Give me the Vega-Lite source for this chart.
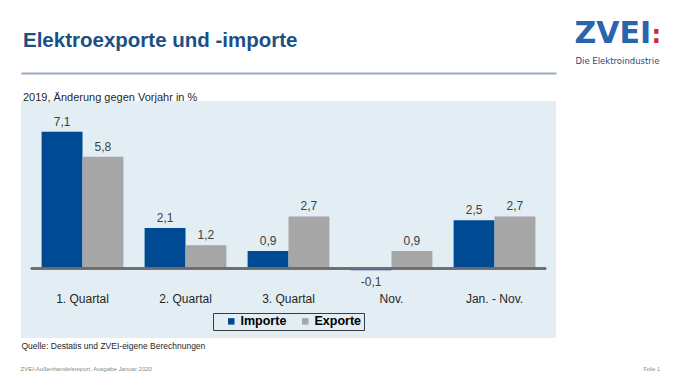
{
  "$schema": "https://vega.github.io/schema/vega-lite/v6.json",
  "width": 535,
  "height": 237,
  "autosize": {"type": "none"},
  "padding": {"left": 21, "top": 101, "right": 119, "bottom": 42},
  "background": "white",
  "config": {
    "font": "Liberation Sans",
    "view": {"stroke": null, "fill": "#e2edf4"},
    "locale": {"number": {"decimal": ",", "thousands": ".", "grouping": [3], "currency": ["", " €"], "minus": "-"}},
    "axis": {"grid": false, "labels": false, "ticks": false, "domain": false}
  },
  "title": {
    "text": "Elektroexporte und -importe",
    "subtitle": "2019, Änderung gegen Vorjahr in %",
    "anchor": "start",
    "frame": "group",
    "offset": -84.5,
    "dx": 2,
    "font": "Liberation Sans",
    "fontSize": 20.5,
    "fontWeight": "bold",
    "color": "#1c4f82",
    "subtitleFont": "Liberation Sans",
    "subtitleFontSize": 11,
    "subtitleColor": "#262626",
    "subtitlePadding": 40
  },
  "data": {
    "values": [
      {"cat": "1. Quartal", "series": "Importe", "value": 7.1},
      {"cat": "1. Quartal", "series": "Exporte", "value": 5.8},
      {"cat": "2. Quartal", "series": "Importe", "value": 2.1},
      {"cat": "2. Quartal", "series": "Exporte", "value": 1.2},
      {"cat": "3. Quartal", "series": "Importe", "value": 0.9},
      {"cat": "3. Quartal", "series": "Exporte", "value": 2.7},
      {"cat": "Nov.", "series": "Importe", "value": -0.1},
      {"cat": "Nov.", "series": "Exporte", "value": 0.9},
      {"cat": "Jan. - Nov.", "series": "Importe", "value": 2.5},
      {"cat": "Jan. - Nov.", "series": "Exporte", "value": 2.7}
    ]
  },
  "resolve": {"axis": {"x": "independent", "y": "independent"}},
  "layer": [
    {
      "mark": {"type": "bar"},
      "encoding": {
        "x": {
          "field": "cat", "type": "nominal",
          "sort": ["1. Quartal", "2. Quartal", "3. Quartal", "Nov.", "Jan. - Nov."],
          "scale": {"paddingInner": 0.206, "paddingOuter": 0.2},
          "axis": {
            "orient": "bottom", "offset": -45, "labels": true, "labelAngle": 0,
            "labelPadding": 0, "labelFontSize": 12, "labelColor": "#262626", "labelBaseline": "top",
            "title": "Quelle: Destatis und ZVEI-eigene Berechnungen",
            "titleX": 0, "titleY": 52, "titleAlign": "left", "titleAnchor": "start", "titleBaseline": "middle",
            "titleFontSize": 8.5, "titleFontWeight": "normal", "titleColor": "#262626"
          }
        },
        "xOffset": {"field": "series", "type": "nominal", "sort": ["Importe", "Exporte"], "scale": {"paddingInner": 0, "paddingOuter": 0}},
        "y": {
          "field": "value", "type": "quantitative",
          "scale": {"domain": [-3.61, 8.69], "nice": false, "zero": false},
          "axis": {
            "orient": "left",
            "title": "ZVEI-Außenhandelsreport,   Ausgabe Januar 2020",
            "titleAngle": 0, "titleX": -1, "titleY": 267, "titleAlign": "left", "titleBaseline": "middle",
            "titleFontSize": 6, "titleFontWeight": "normal", "titleColor": "#8a8a8a"
          }
        },
        "color": {
          "field": "series", "type": "nominal",
          "scale": {"domain": ["Importe", "Exporte"], "range": ["#004a93", "#a6a6a6"]},
          "legend": {
            "title": null, "orient": "none", "legendX": 192, "legendY": 212,
            "direction": "horizontal", "symbolType": "square", "symbolSize": 42, "symbolStrokeWidth": 0,
            "symbolOffset": 10, "labelOffset": 3, "columnPadding": 2, "padding": 2,
            "labelFontSize": 12.5, "labelFontWeight": "bold", "labelColor": "#000000",
            "strokeColor": "#3c3c3c"
          }
        }
      }
    },
    {
      "transform": [{"filter": "datum.value >= 0"}],
      "mark": {"type": "text", "baseline": "alphabetic", "dy": -6, "fontSize": 12, "color": "#404040"},
      "encoding": {
        "x": {
          "field": "cat", "type": "nominal",
          "sort": ["1. Quartal", "2. Quartal", "3. Quartal", "Nov.", "Jan. - Nov."],
          "axis": {
            "orient": "top", "offset": 28, "domain": true, "domainColor": "#9aabc2", "domainWidth": 2,
            "title": "ZVEI", "titleX": 553, "titleY": -31, "titleAlign": "left", "titleBaseline": "alphabetic",
            "titleFont": "DejaVu Sans", "titleFontSize": 30, "titleFontWeight": "bold", "titleColor": "#2a64ad"
          }
        },
        "xOffset": {"field": "series", "type": "nominal", "sort": ["Importe", "Exporte"]},
        "y": {
          "field": "value", "type": "quantitative",
          "axis": {
            "orient": "right",
            "title": "Folie 1",
            "titleAngle": 0, "titleX": 87, "titleY": 267, "titleAlign": "left", "titleBaseline": "middle",
            "titleFontSize": 5.5, "titleFontWeight": "normal", "titleColor": "#8a8a8a"
          }
        },
        "text": {"field": "value", "type": "quantitative", "format": ".1f"}
      }
    },
    {
      "transform": [{"filter": "datum.value < 0"}],
      "mark": {"type": "text", "baseline": "alphabetic", "dy": 16, "fontSize": 12, "color": "#404040"},
      "encoding": {
        "x": {
          "field": "cat", "type": "nominal",
          "sort": ["1. Quartal", "2. Quartal", "3. Quartal", "Nov.", "Jan. - Nov."],
          "axis": {
            "orient": "top", "offset": 28,
            "title": ":", "titleX": 630, "titleY": -31, "titleAlign": "left", "titleBaseline": "alphabetic",
            "titleFont": "DejaVu Sans", "titleFontSize": 24, "titleFontWeight": "bold", "titleColor": "#d4213d"
          }
        },
        "xOffset": {"field": "series", "type": "nominal", "sort": ["Importe", "Exporte"]},
        "y": {
          "field": "value", "type": "quantitative",
          "axis": {
            "orient": "right",
            "title": "Die Elektroindustrie",
            "titleAngle": 0, "titleX": 19, "titleY": -41, "titleAlign": "left", "titleBaseline": "middle",
            "titleFont": "DejaVu Sans", "titleFontSize": 8.5, "titleFontWeight": "normal", "titleColor": "#1f4e79"
          }
        },
        "text": {"field": "value", "type": "quantitative", "format": ".1f"}
      }
    },
    {
      "mark": {"type": "rule", "color": "#6e6e6e", "strokeWidth": 1.5},
      "encoding": {
        "x": {"datum": "1. Quartal", "bandPosition": -0.131, "axis": null},
        "x2": {"datum": "Jan. - Nov.", "bandPosition": 1.131},
        "y": {"datum": 0, "axis": null}
      }
    }
  ]
}
